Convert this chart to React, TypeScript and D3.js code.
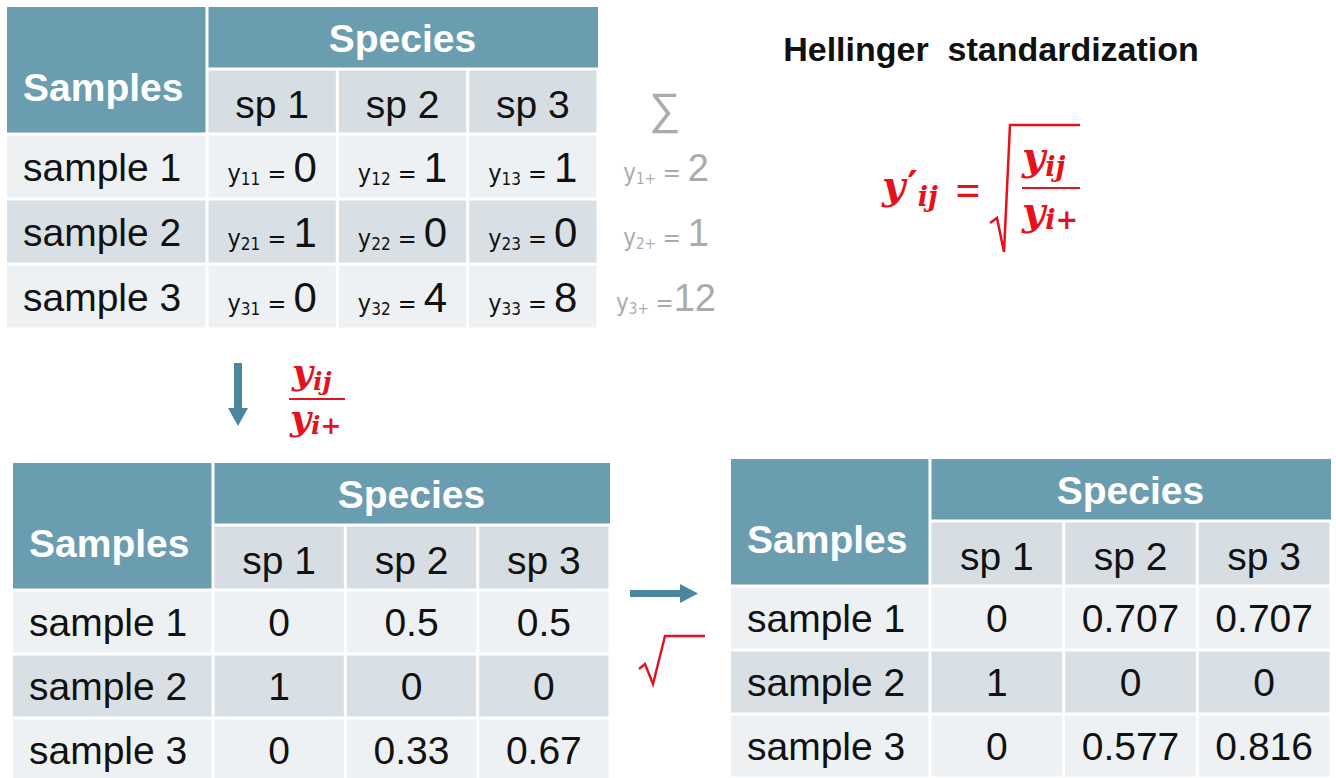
import React from "react";
import * as d3 from "d3";

// values
const samples = ["sample 1", "sample 2", "sample 3"];
const species = ["sp 1", "sp 2", "sp 3"];
const counts = [[0, 1, 1], [1, 0, 0], [0, 4, 8]];
const rowTotals = ["2", "1", "12"];
const relative = [["0", "0.5", "0.5"], ["1", "0", "0"], ["0", "0.33", "0.67"]];
const hellinger = [["0", "0.707", "0.707"], ["1", "0", "0"], ["0", "0.577", "0.816"]];

const W = 1336, H = 778;
const TEAL = "#6b9db0";
const SUB = "#d7dee3";
const LIGHT = "#edf1f3";
const DARK = "#d9e0e5";
const ARROW = "#4a869d";
const RED = "#e3121b";
const GREY = "#ababab";
const SANS = "'Liberation Sans', Arial, sans-serif";
const NARROW = "'Liberation Sans Narrow', 'DejaVu Sans Condensed', 'Liberation Sans', sans-serif";
const MATH = "'DejaVu Serif', 'Liberation Serif', serif";
const FS = 39;

const GAP = 1.5;
const BAND_H = 62;
const HDR_H = 127;

type TableProps = {
    x: number;
    y: number;
    sampleW: number;
    w: number;
    rowH: number;
    cell: (i: number, j: number, cx: number, cy: number) => React.ReactNode;
};

const Table = ({x, y, sampleW, w, rowH, cell}: TableProps) => {
    const col = d3.scaleBand<string>().domain(species).range([x + sampleW, x + w]);
    const row = d3.scaleBand<string>().domain(samples)
        .range([y + HDR_H, y + HDR_H + rowH * samples.length]);
    const bw = col.bandwidth(), bh = row.bandwidth();

    return (
        <g fontFamily={SANS}>
            {/* header */}
            <rect x={x} y={y} width={sampleW - GAP} height={HDR_H - GAP} fill={TEAL}/>
            <text x={x + 16} y={y + 80} dy="0.36em" fontSize={FS} fontWeight="bold" fill="#fff">Samples</text>
            <rect x={x + sampleW + GAP} y={y} width={w - sampleW - GAP} height={BAND_H - GAP} fill={TEAL}/>
            <text x={x + sampleW + (w - sampleW) / 2} y={y + BAND_H / 2} dy="0.36em" textAnchor="middle"
                  fontSize={FS} fontWeight="bold" fill="#fff">Species</text>
            {species.map(s => (
                <g key={s}>
                    <rect x={col(s)! + GAP} y={y + BAND_H + GAP} width={bw - 2 * GAP}
                          height={HDR_H - BAND_H - 2 * GAP} fill={SUB}/>
                    <text x={col(s)! + bw / 2} y={y + BAND_H + (HDR_H - BAND_H) / 2 + 2} dy="0.36em"
                          textAnchor="middle" fontSize={FS} fill="#111">{s}</text>
                </g>
            ))}
            {/* body */}
            {samples.map((s, i) => {
                const fill = i % 2 === 1 ? DARK : LIGHT;
                const cy = row(s)! + bh / 2;
                return (
                    <g key={s}>
                        <rect x={x} y={row(s)! + GAP} width={sampleW - GAP} height={bh - 2 * GAP} fill={fill}/>
                        <text x={x + 16} y={cy} dy="0.36em" fontSize={FS} fill="#111">{s}</text>
                        {species.map((sp, j) => (
                            <g key={sp}>
                                <rect x={col(sp)! + GAP} y={row(s)! + GAP} width={bw - 2 * GAP}
                                      height={bh - 2 * GAP} fill={fill}/>
                                {cell(i, j, col(sp)! + bw / 2, cy)}
                            </g>
                        ))}
                    </g>
                );
            })}
        </g>
    );
};

const plainCell = (values: string[][]) => (i: number, j: number, cx: number, cy: number) => (
    <text x={cx} y={cy} dy="0.36em" textAnchor="middle" fontSize={FS} fill="#111">{values[i][j]}</text>
);

const countCell = (i: number, j: number, cx: number, cy: number) => (
    <text x={cx} y={cy + 15} textAnchor="middle" fill="#111" style={{whiteSpace: "pre"}}>
        <tspan fontFamily={NARROW} fontSize={25}>y</tspan>
        <tspan fontFamily={NARROW} fontSize={17} dy={3}>{`${i + 1}${j + 1}`}</tspan>
        <tspan fontFamily={NARROW} fontSize={25} dy={-3}>{" = "}</tspan>
        <tspan fontSize={42}>{counts[i][j]}</tspan>
    </text>
);

const App = () => {
    // top table row scale, reused for the margin sums
    const topRow = d3.scaleBand<string>().domain(samples).range([7 + HDR_H, 7 + HDR_H + 65 * 3]);

    return (
        <svg width={W} height={H} style={{position: "absolute", left: 0, top: 0, background: "#fff"}}>
            <rect width={W} height={H} fill="#fff"/>

            <Table x={7} y={7} sampleW={200} w={591} rowH={65} cell={countCell}/>

            {/* row sums */}
            <text x={665} y={108} dy="0.36em" textAnchor="middle" fontFamily={SANS} fontSize={44} fill={GREY}>∑</text>
            {samples.map((s, i) => (
                <text key={s} x={666} y={topRow(s)! + topRow.bandwidth() / 2 + 14} textAnchor="middle"
                      fontFamily={SANS} fill={GREY} style={{whiteSpace: "pre"}}>
                    <tspan fontFamily={NARROW} fontSize={24}>y</tspan>
                    <tspan fontFamily={NARROW} fontSize={15} dy={3}>{`${i + 1}+`}</tspan>
                    <tspan fontFamily={NARROW} fontSize={24} dy={-3}>{i === 2 ? " =" : " = "}</tspan>
                    <tspan fontSize={38}>{rowTotals[i]}</tspan>
                </text>
            ))}

            {/* title */}
            <text x={991} y={61} textAnchor="middle" fontFamily={SANS} fontSize={34} fontWeight="bold"
                  fill="#111" style={{whiteSpace: "pre"}}>Hellinger  standardization</text>

            {/* Hellinger formula */}
            <g fill={RED} fontFamily={MATH} fontWeight="bold" fontStyle="italic">
                <text x={882} y={199} fontSize={40}>
                    <tspan>y</tspan>
                    <tspan dx={2} fontStyle="normal">′</tspan>
                    <tspan fontSize={27} dy={7}>ij</tspan>
                </text>
                <text x={968} y={205} textAnchor="middle" fontSize={44} fontStyle="normal"
                      fontFamily="'Liberation Serif', serif">=</text>
                <path d="M990,223 L997,218 L1004,252 L1010,125 L1080,125" fill="none" stroke={RED}
                      strokeWidth={2.5} strokeLinejoin="miter"/>
                <text x={1022} y={170} fontSize={40}>
                    <tspan>y</tspan><tspan fontSize={27} dy={6}>ij</tspan>
                </text>
                <line x1={1022} x2={1080} y1={188} y2={188} stroke={RED} strokeWidth={2}/>
                <text x={1022} y={225} fontSize={40}>
                    <tspan>y</tspan><tspan fontSize={27} dy={4}>i+</tspan>
                </text>
            </g>

            {/* down arrow with y_ij / y_i+ */}
            <path d="M234,363 L242,363 L242,408 L248,408 L238,426 L228,408 L234,408 Z" fill={ARROW}/>
            <g fill={RED} fontFamily={MATH} fontWeight="bold" fontStyle="italic">
                <text x={292} y={384} fontSize={36}>
                    <tspan>y</tspan><tspan fontSize={25} dy={6}>ij</tspan>
                </text>
                <line x1={289} x2={345} y1={399} y2={399} stroke={RED} strokeWidth={2}/>
                <text x={290} y={430} fontSize={36}>
                    <tspan>y</tspan><tspan fontSize={25} dy={4}>i+</tspan>
                </text>
            </g>

            <Table x={13} y={463} sampleW={200} w={597} rowH={64} cell={plainCell(relative)}/>

            {/* right arrow with root sign */}
            <path d="M630,590 L680,590 L680,584 L698,593.5 L680,603 L680,597 L630,597 Z" fill={ARROW}/>
            <path d="M639,669 L645,664 L653,684 L665,636 L705,636" fill="none" stroke={RED} strokeWidth={2.4}/>

            <Table x={731} y={459} sampleW={199} w={600} rowH={64} cell={plainCell(hellinger)}/>
        </svg>
    );
};

export default App;
